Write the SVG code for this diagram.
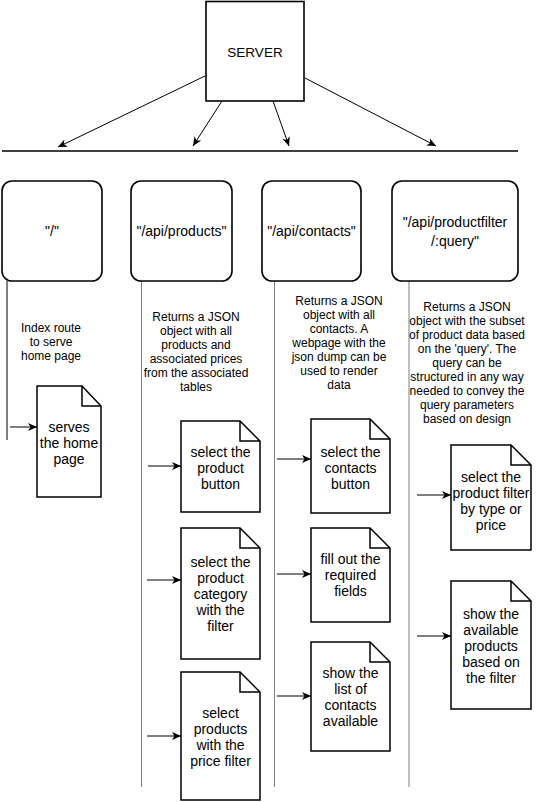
<svg xmlns="http://www.w3.org/2000/svg" width="536" height="802" viewBox="0 0 536 802">
<style>
.box{fill:#fff;stroke:#000;stroke-width:1.6}
.doc{fill:#fff;stroke:#000;stroke-width:1.5;stroke-linejoin:miter}
.lbl{font-family:"Liberation Sans",Arial,sans-serif;font-size:14px;fill:#000;text-anchor:middle}
.desc{font-family:"Liberation Sans",Arial,sans-serif;font-size:12px;fill:#000;text-anchor:middle}
.con{stroke:#000;stroke-width:1;fill:none}
.lane{stroke:#808080;stroke-width:1;fill:none}
</style>
<defs>
<marker id="ah" markerUnits="userSpaceOnUse" markerWidth="10" markerHeight="10" viewBox="0 0 10 10" refX="9" refY="5" orient="auto">
<path d="M0,1 L9,5 L0,9 L2.5,5 Z" fill="#000"/>
</marker>
</defs>
<rect width="536" height="802" fill="#fff"/>

<g id="server">
<rect class="box" x="206" y="1.5" width="98" height="99.5"/>
<text class="lbl" x="255" y="57" style="font-size:13.5px">SERVER</text>
</g>

<g id="connectors">
<line x1="2" y1="151" x2="518" y2="151" stroke="#000" stroke-width="1.5"/>
<line class="con" x1="205" y1="76" x2="58" y2="147" marker-end="url(#ah)"/>
<line class="con" x1="222" y1="101" x2="193" y2="146" marker-end="url(#ah)"/>
<line class="con" x1="273" y1="101" x2="289" y2="146" marker-end="url(#ah)"/>
<line class="con" x1="305" y1="78" x2="436" y2="146" marker-end="url(#ah)"/>
<line x1="7" y1="281" x2="7" y2="440" stroke="#000" stroke-width="1"/>
<line class="lane" x1="141.5" y1="281" x2="141.5" y2="787"/>
<line class="lane" x1="274.5" y1="281" x2="274.5" y2="787"/>
<line class="lane" x1="409" y1="281" x2="409" y2="787"/>
<line class="con" x1="10" y1="427" x2="37" y2="427" marker-end="url(#ah)"/>
<line class="con" x1="148" y1="466" x2="181" y2="466" marker-end="url(#ah)"/>
<line class="con" x1="147" y1="580" x2="181" y2="580" marker-end="url(#ah)"/>
<line class="con" x1="147" y1="736" x2="181" y2="736" marker-end="url(#ah)"/>
<line class="con" x1="277" y1="459" x2="311" y2="459" marker-end="url(#ah)"/>
<line class="con" x1="277" y1="574" x2="311" y2="574" marker-end="url(#ah)"/>
<line class="con" x1="277" y1="696" x2="311" y2="696" marker-end="url(#ah)"/>
<line class="con" x1="417" y1="495" x2="451" y2="495" marker-end="url(#ah)"/>
<line class="con" x1="417" y1="636" x2="451" y2="636" marker-end="url(#ah)"/>
</g>

<g id="route-root">
<rect class="box" x="2" y="181" width="100" height="100" rx="10"/>
<text class="lbl" x="52" y="236">"/"</text>
</g>
<g id="route-products">
<rect class="box" x="131" y="181" width="101" height="100" rx="10"/>
<text class="lbl" x="181.5" y="236">"/api/products"</text>
</g>
<g id="route-contacts">
<rect class="box" x="262" y="181" width="99" height="100" rx="10"/>
<text class="lbl" x="311.5" y="236">"/api/contacts"</text>
</g>
<g id="route-productfilter">
<rect class="box" x="392" y="181" width="126" height="100" rx="10"/>
<text class="lbl" x="455" y="227">"/api/productfilter</text>
<text class="lbl" x="455" y="246">/:query"</text>
</g>

<g id="desc-root">
<text class="desc" x="51" y="332">Index route</text>
<text class="desc" x="51" y="346">to serve</text>
<text class="desc" x="51" y="360">home page</text>
</g>
<g id="desc-products">
<text class="desc" x="196" y="321">Returns a JSON</text>
<text class="desc" x="196" y="335">object with all</text>
<text class="desc" x="196" y="349">products and</text>
<text class="desc" x="196" y="363">associated prices</text>
<text class="desc" x="196" y="377">from the associated</text>
<text class="desc" x="196" y="391">tables</text>
</g>
<g id="desc-contacts">
<text class="desc" x="339" y="305">Returns a JSON</text>
<text class="desc" x="339" y="319">object with all</text>
<text class="desc" x="339" y="333">contacts. A</text>
<text class="desc" x="339" y="347">webpage with the</text>
<text class="desc" x="339" y="361">json dump can be</text>
<text class="desc" x="339" y="375">used to render</text>
<text class="desc" x="339" y="389">data</text>
</g>
<g id="desc-productfilter">
<text class="desc" x="467" y="311">Returns a JSON</text>
<text class="desc" x="467" y="325">object with the subset</text>
<text class="desc" x="467" y="339">of product data based</text>
<text class="desc" x="467" y="353">on the 'query'. The</text>
<text class="desc" x="467" y="367">query can be</text>
<text class="desc" x="467" y="381">structured in any way</text>
<text class="desc" x="467" y="395">needed to convey the</text>
<text class="desc" x="467" y="409">query parameters</text>
<text class="desc" x="467" y="423">based on design</text>
</g>

<g id="doc-home">
<path class="doc" d="M37,386 H82 L101,406 V497 H37 Z M82,386 V406 H101"/>
<text class="lbl" x="69" y="432">serves</text>
<text class="lbl" x="69" y="448">the home</text>
<text class="lbl" x="69" y="464">page</text>
</g>
<g id="doc-product-button">
<path class="doc" d="M181,421 H240 L260,441 V512 H181 Z M240,421 V441 H260"/>
<text class="lbl" x="220.5" y="457">select the</text>
<text class="lbl" x="220.5" y="473">product</text>
<text class="lbl" x="220.5" y="489">button</text>
</g>
<g id="doc-product-category">
<path class="doc" d="M181,528 H240 L260,548 V659 H181 Z M240,528 V548 H260"/>
<text class="lbl" x="220.5" y="567">select the</text>
<text class="lbl" x="220.5" y="583">product</text>
<text class="lbl" x="220.5" y="599">category</text>
<text class="lbl" x="220.5" y="615">with the</text>
<text class="lbl" x="220.5" y="631">filter</text>
</g>
<g id="doc-price-filter">
<path class="doc" d="M181,672 H240 L260,692 V800 H181 Z M240,672 V692 H260"/>
<text class="lbl" x="220.5" y="718">select</text>
<text class="lbl" x="220.5" y="734">products</text>
<text class="lbl" x="220.5" y="750">with the</text>
<text class="lbl" x="220.5" y="766">price filter</text>
</g>
<g id="doc-contacts-button">
<path class="doc" d="M311,419 H370 L390,439 V513 H311 Z M370,419 V439 H390"/>
<text class="lbl" x="350.5" y="457">select the</text>
<text class="lbl" x="350.5" y="473">contacts</text>
<text class="lbl" x="350.5" y="489">button</text>
</g>
<g id="doc-fill-fields">
<path class="doc" d="M311,528 H370 L390,548 V622 H311 Z M370,528 V548 H390"/>
<text class="lbl" x="350.5" y="564">fill out the</text>
<text class="lbl" x="350.5" y="580">required</text>
<text class="lbl" x="350.5" y="596">fields</text>
</g>
<g id="doc-list-contacts">
<path class="doc" d="M311,642 H370 L390,662 V751 H311 Z M370,642 V662 H390"/>
<text class="lbl" x="350.5" y="678">show the</text>
<text class="lbl" x="350.5" y="694">list of</text>
<text class="lbl" x="350.5" y="710">contacts</text>
<text class="lbl" x="350.5" y="726">available</text>
</g>
<g id="doc-filter-type">
<path class="doc" d="M451,445 H511 L531,465 V550 H451 Z M511,445 V465 H531"/>
<text class="lbl" x="491" y="482">select the</text>
<text class="lbl" x="491" y="498">product filter</text>
<text class="lbl" x="491" y="514">by type or</text>
<text class="lbl" x="491" y="530">price</text>
</g>
<g id="doc-available-products">
<path class="doc" d="M451,581 H511 L531,601 V709 H451 Z M511,581 V601 H531"/>
<text class="lbl" x="491" y="619">show the</text>
<text class="lbl" x="491" y="635">available</text>
<text class="lbl" x="491" y="651">products</text>
<text class="lbl" x="491" y="667">based on</text>
<text class="lbl" x="491" y="683">the filter</text>
</g>
</svg>
